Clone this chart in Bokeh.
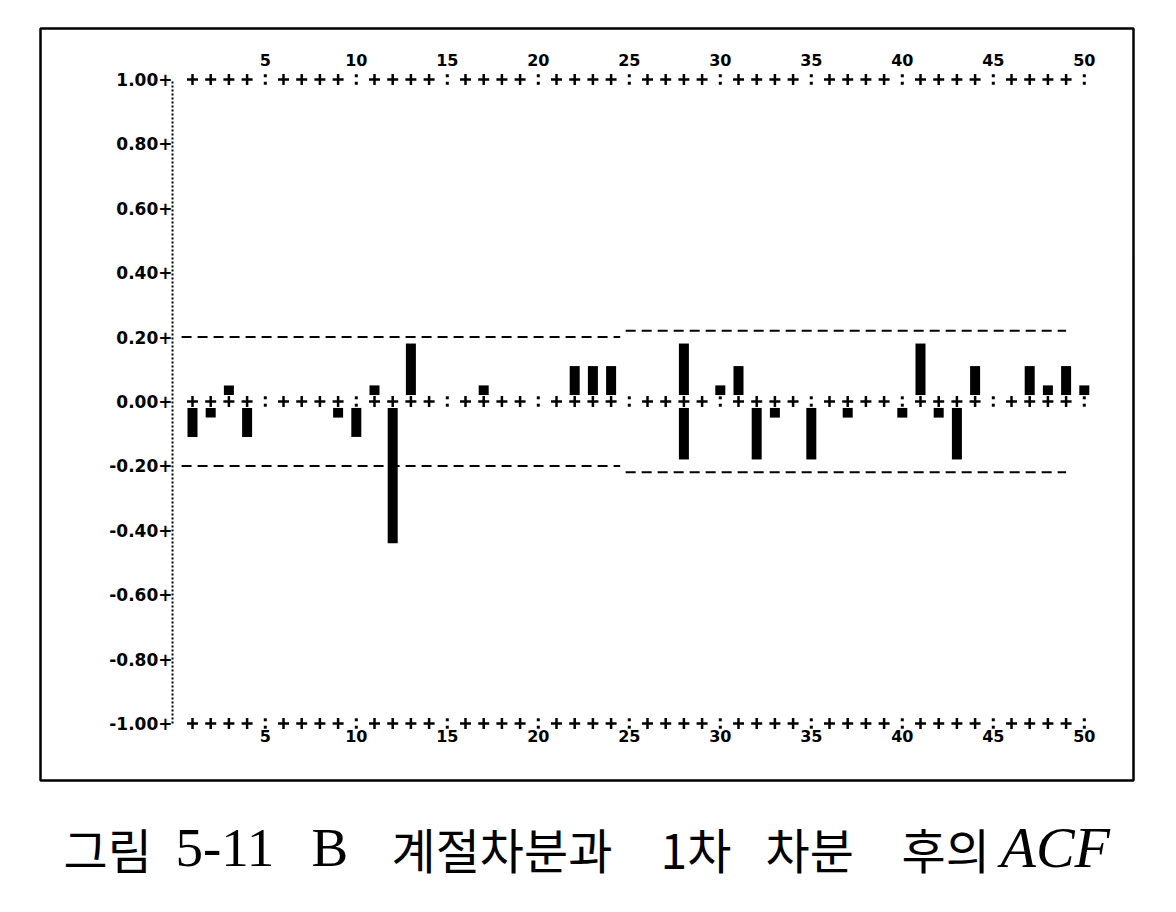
from bokeh.plotting import figure
from bokeh.models import Range1d, LinearAxis, FixedTicker
from bokeh.core.properties import value
from bokeh.embed import file_html
from bokeh.resources import INLINE

# ---------------- data ----------------
lags = list(range(1, 51))
acf = [-0.11, -0.05, 0.05, -0.11, 0.00, 0.00, 0.00, 0.00, -0.05, -0.11,
       0.05, -0.44, 0.18, 0.00, 0.00, 0.00, 0.05, 0.00, 0.00, 0.00,
       0.00, 0.11, 0.11, 0.11, 0.00, 0.00, 0.00, 0.18, 0.00, 0.05,
       0.11, -0.18, -0.05, 0.00, -0.18, 0.00, -0.05, 0.00, 0.00, -0.05,
       0.18, -0.05, -0.18, 0.11, 0.00, 0.00, 0.11, 0.05, 0.11, 0.05]
extra_lags = [28]
extra_acf = [-0.18]

band_start = [0.4, 24.8]
band_end = [24.5, 49.0]
band_limit = [0.20, 0.22]

y_ticks = [1.0, 0.8, 0.6, 0.4, 0.2, 0.0, -0.2, -0.4, -0.6, -0.8, -1.0]
y_tick_labels = ["1.00+", "0.80+", "0.60+", "0.40+", "0.20+", "0.00+",
                 "-0.20+", "-0.40+", "-0.60+", "-0.80+", "-1.00+"]
x_ticks = [5, 10, 15, 20, 25, 30, 35, 40, 45, 50]
x_tick_labels = ["5", "10", "15", "20", "25", "30", "35", "40", "45", "50"]
row_levels = [1.0, 0.0, -1.0]

caption_pieces = ["그림", "5-11", "B", "계절차분과", "1차", "차분", "후의", "ACF"]

# ---------------- geometry (pixel layout of the picture) ----------------
PX_LAG1 = 192.0      # image x of lag 1
PX_PER_LAG = 18.2
PX_ZERO = 401.0      # image y of acf 0
PX_PER_UNIT = 322.0
BOX_L, BOX_R, BOX_T, BOX_B = 40, 1133, 28, 780
PAGE = 0
W, H = 1160, 896


def lag_at(px):
    return 1 + (px - PX_LAG1) / PX_PER_LAG


def val_at(py):
    return (PX_ZERO - py) / PX_PER_UNIT


p = figure(width=W, height=H, output_backend="svg", toolbar_location=None,
           x_range=Range1d(lag_at(PAGE), lag_at(PAGE + W)),
           y_range=Range1d(val_at(PAGE + H), val_at(PAGE)),
           x_axis_location=None, y_axis_location=None,
           min_border=0)
p.grid.visible = False
p.outline_line_color = None
p.background_fill_color = "white"
p.border_fill_color = "white"

# outer box
p.quad(left=[lag_at(BOX_L)], right=[lag_at(BOX_R)], top=[val_at(BOX_T)],
       bottom=[val_at(BOX_B)], fill_color=None, line_color="black", line_width=2.5)

LABEL_FONT = "DejaVu Sans"

# left axis (dotted, labels "x.xx+")
ly = LinearAxis(fixed_location=lag_at(172), ticker=FixedTicker(ticks=y_ticks),
                bounds=(-1.0, 1.0))
ly.major_label_overrides = {t: s for t, s in zip(y_ticks, y_tick_labels)}
ly.major_tick_out = 0
ly.major_tick_in = 0
ly.minor_tick_out = 0
ly.minor_tick_in = 0
ly.major_label_standoff = 0
ly.axis_line_dash = "2 2"
ly.axis_line_width = 2
ly.major_label_text_font = LABEL_FONT
ly.major_label_text_font_style = "bold"
ly.major_label_text_font_size = "17px"
ly.major_label_text_color = "black"
p.add_layout(ly, "left")

for loc, side, standoff in [(1.0, "above", 14), (-1.0, "below", 6)]:
    ax = LinearAxis(fixed_location=loc, ticker=FixedTicker(ticks=x_ticks))
    ax.major_label_overrides = {t: s for t, s in zip(x_ticks, x_tick_labels)}
    ax.major_tick_out = 0
    ax.major_tick_in = 0
    ax.minor_tick_out = 0
    ax.minor_tick_in = 0
    ax.axis_line_color = None
    ax.major_label_standoff = standoff
    ax.major_label_text_font = LABEL_FONT
    ax.major_label_text_font_style = "bold"
    ax.major_label_text_font_size = "16px"
    ax.major_label_text_color = "black"
    p.add_layout(ax, side)

# "++++:" rows at 1, 0, -1
plus_x, plus_y, col_x, col_y = [], [], [], []
for lv in row_levels:
    for lg in lags:
        if lg % 5 == 0:
            col_x += [lg, lg]
            col_y += [lv + 0.0115, lv - 0.0115]
        else:
            plus_x.append(lg)
            plus_y.append(lv)
p.scatter(plus_x, plus_y, marker="cross", size=11, line_width=2.5, line_color="black")
p.scatter(col_x, col_y, marker="square", size=3, line_color=None, fill_color="black")

# confidence bands
for s, e, lim in zip(band_start, band_end, band_limit):
    p.segment(x0=[s, s], y0=[lim, -lim], x1=[e, e], y1=[lim, -lim],
              line_color="black", line_width=2, line_dash="10 6")

# bars (leave a gap around the zero row as in the printout)
bx, btop, bbot = [], [], []
for lg, v in list(zip(lags, acf)) + list(zip(extra_lags, extra_acf)):
    if v != 0:
        bx.append(lg)
        btop.append(v)
        bbot.append(0.02 if v > 0 else -0.02)
p.vbar(x=bx, top=btop, bottom=bbot, width=0.55, fill_color="black", line_color=None)

# caption
cap_x = [63, 175, 311, 391, 660, 765, 901, 1000]
for txt, cx in zip(caption_pieces, cap_x):
    if txt == "ACF":
        font, size, style = "Liberation Serif", "58px", "italic"
    elif txt in ("5-11", "B"):
        font, size, style = "Liberation Serif", "55px", "normal"
    else:
        font, size, style = "Noto Sans CJK KR", "48px", "normal"
    p.text(x=[lag_at(cx)], y=[val_at(847)], text=[txt], text_font=value(font),
           text_font_size=size, text_font_style=style,
           text_align="left", text_baseline="alphabetic", text_color="black")

open("out.html", "w").write(file_html(p, INLINE))
